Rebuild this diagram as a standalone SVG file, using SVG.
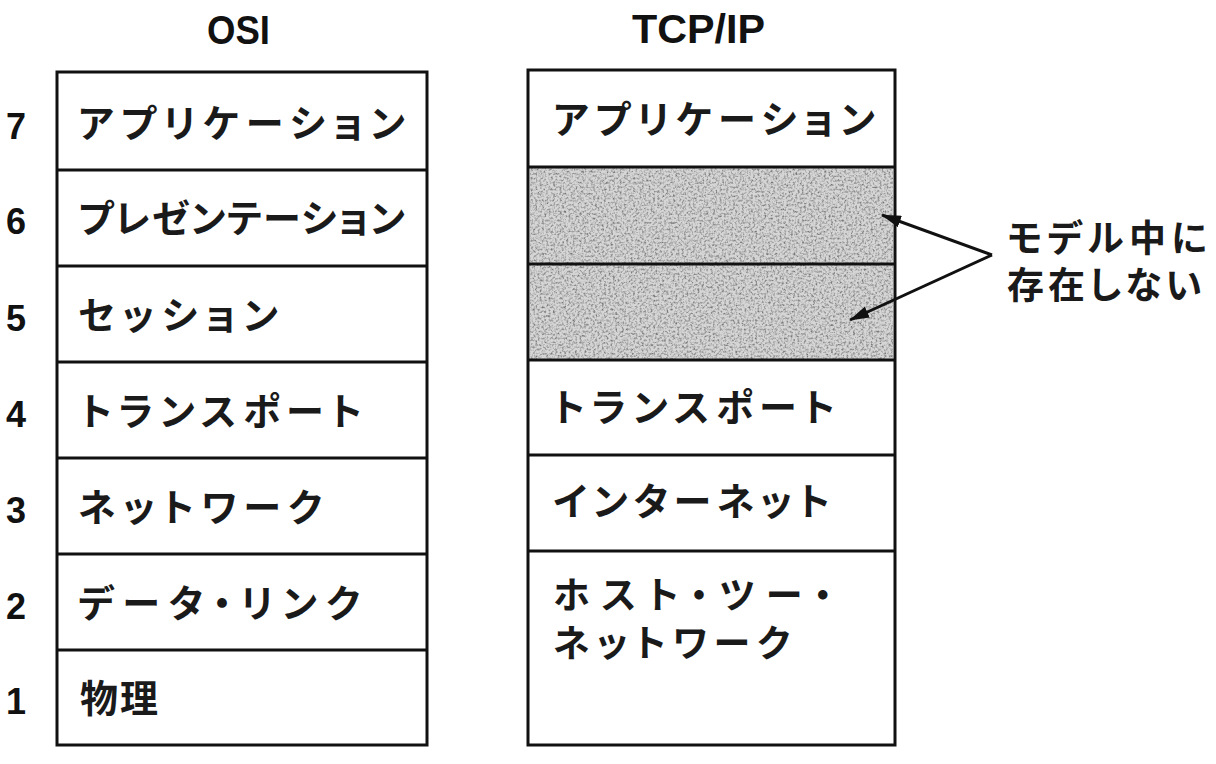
<svg xmlns="http://www.w3.org/2000/svg" width="1216" height="764" viewBox="0 0 1216 764">
<style>
.box{fill:#fff;stroke:#111;stroke-width:3}
.ln{stroke:#111;stroke-width:3}
.jp{font-family:"Noto Sans CJK JP","Noto Sans",sans-serif;font-size:38px;font-weight:bold;fill:#1a1a1a;font-feature-settings:"palt"}
.jp2{font-size:37px}
.num{font-family:"Liberation Sans",Arial,sans-serif;font-size:36px;font-weight:bold;fill:#111}
.ttl{font-family:"Liberation Sans",Arial,sans-serif;font-size:41px;font-weight:bold;fill:#111}
.arr{stroke:#111;stroke-width:3;fill:none}
</style>
<defs>
<filter id="noise" x="0" y="0" width="100%" height="100%">
<feTurbulence type="fractalNoise" baseFrequency="0.45" numOctaves="3" seed="7" result="t"/>
<feColorMatrix in="t" type="matrix" values="0 0 0 0 0  0 0 0 0 0  0 0 0 0 0  0 0 0 2.4 -1.0" result="a"/>
<feFlood flood-color="#777" result="f"/>
<feComposite in="f" in2="a" operator="in" result="dots"/>
<feComposite in="dots" in2="SourceGraphic" operator="in" result="dc"/>
<feMerge><feMergeNode in="SourceGraphic"/><feMergeNode in="dc"/></feMerge>
</filter>
<marker id="ah" viewBox="0 0 20 12" refX="19" refY="6" markerWidth="20" markerHeight="12" orient="auto" markerUnits="userSpaceOnUse">
<path d="M0,0 L20,6 L0,12 z" fill="#111"/>
</marker>
</defs>
<text class="ttl" x="207" y="44" textLength="63" lengthAdjust="spacingAndGlyphs">OSI</text>
<text class="ttl" x="632" y="43" textLength="133" lengthAdjust="spacingAndGlyphs">TCP/IP</text>
<g id="osi">
<rect class="box" x="57" y="72" width="370" height="673"/>
<line class="ln" x1="57" y1="170" x2="427" y2="170"/>
<line class="ln" x1="57" y1="266" x2="427" y2="266"/>
<line class="ln" x1="57" y1="362" x2="427" y2="362"/>
<line class="ln" x1="57" y1="458" x2="427" y2="458"/>
<line class="ln" x1="57" y1="554" x2="427" y2="554"/>
<line class="ln" x1="57" y1="650" x2="427" y2="650"/>
</g>
<g id="osi-labels">
<text class="num" x="6" y="139">7</text>
<text class="num" x="6" y="234">6</text>
<text class="num" x="6" y="331">5</text>
<text class="num" x="6" y="427">4</text>
<text class="num" x="6" y="523">3</text>
<text class="num" x="6" y="619">2</text>
<text class="num" x="6" y="714">1</text>
<text class="jp" x="78" y="137" textLength="327" lengthAdjust="spacing">アプリケーション</text>
<text class="jp" x="78" y="232" textLength="327" lengthAdjust="spacing">プレゼンテーション</text>
<text class="jp" x="78" y="329" textLength="200" lengthAdjust="spacing">セッション</text>
<text class="jp" x="80" y="425" textLength="282" lengthAdjust="spacing">トランスポート</text>
<text class="jp" x="78" y="521" textLength="244" lengthAdjust="spacing">ネットワーク</text>
<text class="jp" x="78" y="617" textLength="282" lengthAdjust="spacing">データ・リンク</text>
<text class="jp" x="80" y="712" textLength="78" lengthAdjust="spacing">物理</text>
</g>
<g id="tcpip">
<rect class="box" x="528" y="70" width="367" height="675"/>
<rect x="530" y="168" width="363" height="191" fill="#d6d6d6" filter="url(#noise)"/>
<line class="ln" x1="528" y1="167" x2="895" y2="167"/>
<line class="ln" x1="528" y1="264" x2="895" y2="264"/>
<line class="ln" x1="528" y1="360" x2="895" y2="360"/>
<line class="ln" x1="528" y1="455" x2="895" y2="455"/>
<line class="ln" x1="528" y1="551" x2="895" y2="551"/>
<text class="jp" x="553" y="133" textLength="322" lengthAdjust="spacing">アプリケーション</text>
<text class="jp" x="553" y="421" textLength="282" lengthAdjust="spacing">トランスポート</text>
<text class="jp" x="553" y="515" textLength="277" lengthAdjust="spacing">インターネット</text>
<text class="jp jp2" x="553" y="609" textLength="279" lengthAdjust="spacing">ホスト・ツー・</text>
<text class="jp jp2" x="553" y="657" textLength="237" lengthAdjust="spacing">ネットワーク</text>
</g>
<g id="connectors">
<line class="arr" x1="992" y1="255" x2="882" y2="215" marker-end="url(#ah)"/>
<line class="arr" x1="992" y1="255" x2="850" y2="320" marker-end="url(#ah)"/>
</g>
<g id="note">
<text class="jp jp2" x="1007" y="252" textLength="200" lengthAdjust="spacing">モデル中に</text>
<text class="jp jp2" x="1007" y="299" textLength="195" lengthAdjust="spacing">存在しない</text>
</g>
</svg>
